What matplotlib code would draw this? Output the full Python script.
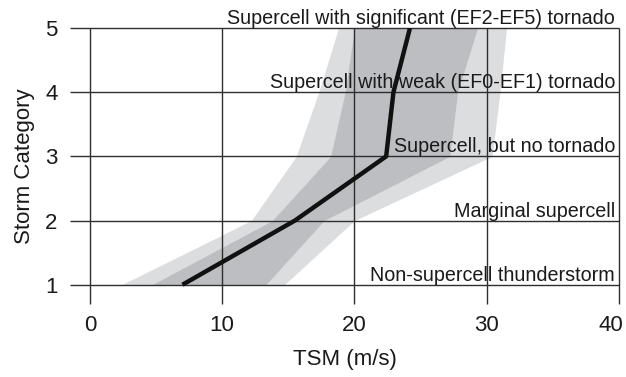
import matplotlib
matplotlib.use("Agg")
import matplotlib.pyplot as plt
from matplotlib.transforms import ScaledTranslation

plt.rcParams['font.family'] = ['Liberation Sans', 'DejaVu Sans']

categories = [1, 2, 3, 4, 5]
median_tsm = [7.0, 15.5, 22.4, 22.95, 24.2]
inner_low = [4.7, 13.8, 18.2, 19.3, 20.0]
inner_high = [13.3, 17.7, 27.2, 27.8, 29.3]
outer_low = [2.4, 12.2, 15.6, 17.3, 18.8]
outer_high = [14.7, 20.0, 30.4, 31.0, 31.5]
category_labels = [
    "Non-supercell thunderstorm",
    "Marginal supercell",
    "Supercell, but no tornado",
    "Supercell with weak (EF0-EF1) tornado",
    "Supercell with significant (EF2-EF5) tornado",
]
x_ticks = [0, 10, 20, 30, 40]

fig = plt.figure(figsize=(6.26, 3.77), dpi=100)
ax = fig.add_axes([70/626, 1-304/377, 549/626, 276/377])
xmin, xmax = -1.5, 40
ymin, ymax = 0.7, 5

ax.fill_betweenx(categories, outer_low, outer_high, color='#dcdddf', lw=0, zorder=1)
ax.fill_betweenx(categories, inner_low, inner_high, color='#bdbec1', lw=0, zorder=2)

grid_col = '#2e2e2e'
ax.hlines(categories, xmin, xmax, colors=grid_col, lw=1.0, zorder=3, clip_on=False)
ax.vlines(x_ticks, ymin, ymax, colors=grid_col, lw=1.0, zorder=3, clip_on=False)

ax.plot(median_tsm, categories, color='#111111', lw=3.2, zorder=5, solid_capstyle='butt')

for c, lab in zip(categories, category_labels):
    ax.text(39.7, c, lab, ha='right', va='bottom', fontsize=14.2, color='#1a1a1a', zorder=4)

ax.set_xlim(xmin, xmax)
ax.set_ylim(ymin, ymax)
for s in ax.spines.values():
    s.set_visible(False)
ax.set_xticks(x_ticks)
ax.set_yticks(categories)
ax.tick_params(length=0, labelsize=16, colors='#1a1a1a')
ax.tick_params(axis='x', pad=8)
ax.tick_params(axis='y', pad=9)
ax.set_xlabel("TSM (m/s)", fontsize=16, color='#1a1a1a', labelpad=9)
ax.set_ylabel("Storm Category", fontsize=16, color='#1a1a1a', labelpad=7)

last = ax.get_xticklabels()[-1]
last.set_transform(last.get_transform() + ScaledTranslation(-8/100, 0, fig.dpi_scale_trans))

fig.savefig("out.png", dpi=100)
